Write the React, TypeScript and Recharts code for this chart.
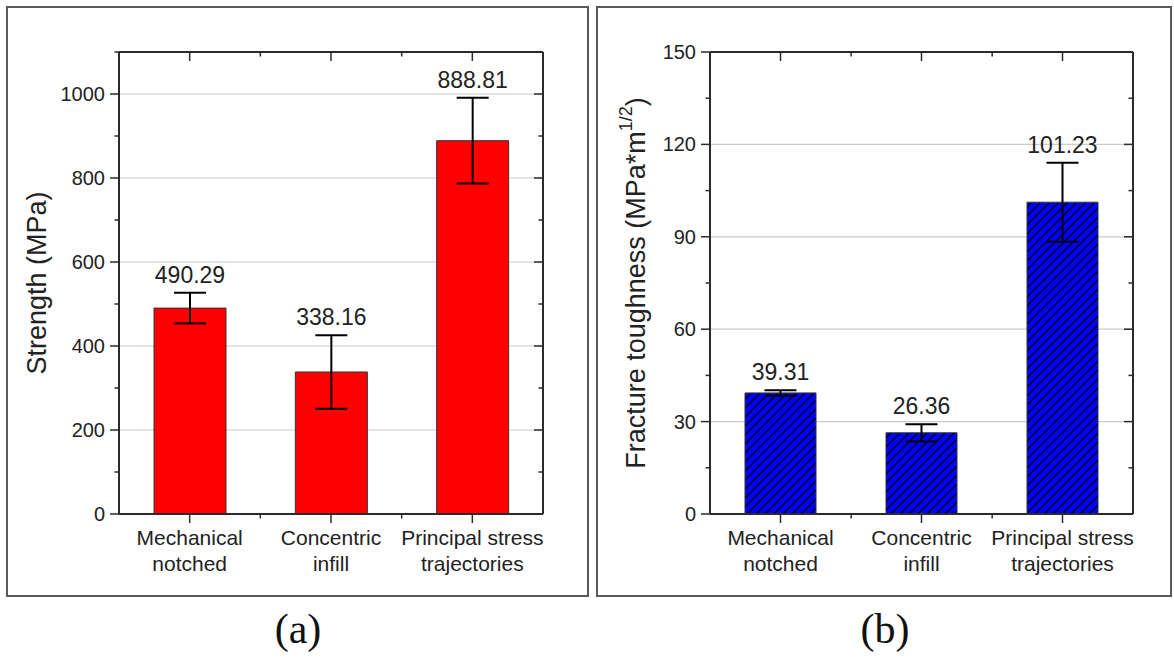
import { Bar, BarChart, CartesianGrid, ErrorBar, Label, LabelList, XAxis, YAxis } from "recharts";

const CATEGORIES = ["Mechanical notched", "Concentric infill", "Principal stress trajectories"];
const CATEGORY_LINES = [
  ["Mechanical", "notched"],
  ["Concentric", "infill"],
  ["Principal stress", "trajectories"],
];

// (a) tensile strength, MPa
const STRENGTH = [490.29, 338.16, 888.81];
const STRENGTH_ERR = [36.5, 87.5, 102];
const STRENGTH_TICKS = [0, 100, 200, 300, 400, 500, 600, 700, 800, 900, 1000, 1100];
const STRENGTH_MAJOR = [0, 200, 400, 600, 800, 1000];
const STRENGTH_GRID = [200, 400, 600, 800, 1000];

// (b) fracture toughness, MPa*m^1/2
const TOUGHNESS = [39.31, 26.36, 101.23];
const TOUGHNESS_ERR = [0.9, 2.8, 12.8];
const TOUGHNESS_TICKS = [0, 15, 30, 45, 60, 75, 90, 105, 120, 135, 150];
const TOUGHNESS_MAJOR = [0, 30, 60, 90, 120, 150];
const TOUGHNESS_GRID = [30, 60, 90, 120];

const FONT = "'Liberation Sans', Arial, Helvetica, sans-serif";
const AXIS = "#2b2b2b";
const GRID = "#cccccc";
const RED = "#ff0000";
const BLUE = "#0000ff";

const CHART_H = 589;
const PLOT_W = 424;

function YTick(props: any) {
  const { x, y, payload, majors, side } = props;
  const major = majors.includes(payload.value);
  const len = major ? 9 : 4.5;
  // left ticks point outward, right ticks point inward: both go leftwards
  return (
    <g>
      <line x1={x} x2={x - len} y1={y} y2={y} stroke={AXIS} strokeWidth={1.5} />
      {side === "left" && major ? (
        <text x={x - 14} y={y} textAnchor="end" dominantBaseline="central" fontSize={20} fill="#222" fontFamily={FONT}>
          {payload.value}
        </text>
      ) : null}
    </g>
  );
}

function XTick(props: any) {
  const { x, y, index, side } = props;
  const band = PLOT_W / CATEGORIES.length;
  const lines = CATEGORY_LINES[index] || [];
  return (
    <g>
      <line x1={x} x2={x} y1={y} y2={y + 9} stroke={AXIS} strokeWidth={1.5} />
      {index < CATEGORIES.length - 1 ? (
        <line x1={x + band / 2} x2={x + band / 2} y1={y} y2={y + 4.5} stroke={AXIS} strokeWidth={1.5} />
      ) : null}
      {side === "bottom"
        ? lines.map((t: string, i: number) => (
            <text key={t} x={x} y={y + 31 + i * 26} textAnchor="middle" fontSize={21} fill="#222" fontFamily={FONT}>
              {t}
            </text>
          ))
        : null}
    </g>
  );
}

function ValueLabel(props: any) {
  const { x, y, width, height, value, index, errs } = props;
  const v = Number(value);
  const top = Number(y) - (errs[index] * Number(height)) / v;
  return (
    <text x={Number(x) + Number(width) / 2} y={top - 10} textAnchor="middle" fontSize={23} fill="#222" fontFamily={FONT}>
      {v.toFixed(2)}
    </text>
  );
}

function Panel(props: {
  values: number[];
  errs: number[];
  ticks: number[];
  majors: number[];
  grid: number[];
  max: number;
  fill: string;
  width: number;
  marginRight: number;
  yWidth: number;
  barSize: number;
  title: (vb: any) => any;
  defs?: any;
}) {
  const data = CATEGORIES.map((name, i) => ({ name, value: props.values[i], err: props.errs[i] }));
  return (
    <BarChart
      width={props.width}
      height={CHART_H}
      data={data}
      margin={{ top: 44, bottom: 12, left: 0, right: props.marginRight - 1 }}
      barSize={props.barSize}
    >
      {props.defs}
      <CartesianGrid yAxisId="l" xAxisId="b" vertical={false} horizontalValues={props.grid} stroke={GRID} strokeWidth={1.2} />
      <XAxis
        xAxisId="b"
        dataKey="name"
        orientation="bottom"
        height={70}
        interval={0}
        tickSize={0}
        tickMargin={0}
        tickLine={false}
        axisLine={{ stroke: AXIS, strokeWidth: 2 }}
        tick={(p: any) => <XTick {...p} side="bottom" />}
      />
      <XAxis
        xAxisId="t"
        dataKey="name"
        orientation="top"
        height={1}
        interval={0}
        tickSize={0}
        tickMargin={0}
        tickLine={false}
        axisLine={{ stroke: AXIS, strokeWidth: 2 }}
        tick={(p: any) => <XTick {...p} side="top" />}
      />
      <YAxis
        yAxisId="l"
        domain={[0, props.max]}
        ticks={props.ticks}
        interval={0}
        width={props.yWidth}
        tickSize={0}
        tickMargin={0}
        tickLine={false}
        axisLine={{ stroke: AXIS, strokeWidth: 2 }}
        tick={(p: any) => <YTick {...p} majors={props.majors} side="left" />}
      >
        <Label content={(p: any) => props.title(p.viewBox)} />
      </YAxis>
      <YAxis
        yAxisId="r"
        orientation="right"
        domain={[0, props.max]}
        ticks={props.ticks}
        interval={0}
        width={1}
        tickSize={0}
        tickMargin={0}
        tickLine={false}
        axisLine={{ stroke: AXIS, strokeWidth: 2 }}
        tick={(p: any) => <YTick {...p} majors={props.majors} side="right" />}
      />
      <Bar xAxisId="b" yAxisId="l" dataKey="value" fill={props.fill} stroke="#333" strokeWidth={1} isAnimationActive={false}>
        <ErrorBar dataKey="err" direction="y" width={16} strokeWidth={2} stroke="#000" />
        <LabelList dataKey="value" content={(p: any) => <ValueLabel {...p} errs={props.errs} />} />
      </Bar>
      {/* invisible series so the top and right frame axes get a domain */}
      <Bar xAxisId="t" yAxisId="r" dataKey="value" fill="none" stroke="none" isAnimationActive={false} />
    </BarChart>
  );
}

const labelStyle = {
  position: "absolute" as const,
  width: 100,
  top: 604,
  textAlign: "center" as const,
  fontFamily: "'Liberation Serif', 'Times New Roman', serif",
  fontSize: 42,
  lineHeight: "50px",
  color: "#111",
};

export default function App() {
  return (
    <div style={{ position: "absolute", left: 0, top: 0, width: 1174, height: 658, background: "#fff" }}>
      <div
        style={{
          position: "absolute",
          left: 6,
          top: 6,
          width: 583,
          height: 591,
          border: "2px solid #5a5a5a",
          boxSizing: "border-box",
        }}
      />
      <div
        style={{
          position: "absolute",
          left: 596,
          top: 6,
          width: 576,
          height: 591,
          border: "2px solid #5a5a5a",
          boxSizing: "border-box",
        }}
      />
      <div style={{ position: "absolute", left: 7, top: 7 }}>
        <Panel
          values={STRENGTH}
          errs={STRENGTH_ERR}
          ticks={STRENGTH_TICKS}
          majors={STRENGTH_MAJOR}
          grid={STRENGTH_GRID}
          max={1100}
          fill={RED}
          width={580}
          marginRight={44}
          yWidth={112}
          barSize={72}
          title={(vb: any) => (
            <text
              transform={`translate(${vb.x + 30}, ${vb.y + vb.height / 2}) rotate(-90)`}
              textAnchor="middle"
              dominantBaseline="central"
              fontSize={27}
              fill="#222"
              fontFamily={FONT}
            >
              Strength (MPa)
            </text>
          )}
        />
      </div>
      <div style={{ position: "absolute", left: 597, top: 7 }}>
        <Panel
          values={TOUGHNESS}
          errs={TOUGHNESS_ERR}
          ticks={TOUGHNESS_TICKS}
          majors={TOUGHNESS_MAJOR}
          grid={TOUGHNESS_GRID}
          max={150}
          fill="url(#hatch)"
          width={573}
          marginRight={37}
          yWidth={113}
          barSize={71}
          defs={
            <defs>
              <pattern id="hatch" patternUnits="userSpaceOnUse" width={9} height={9}>
                <rect width={9} height={9} fill={BLUE} />
                <path d="M-2,2 L2,-2 M0,9 L9,0 M7,11 L11,7" stroke="#000" strokeWidth={1.3} />
              </pattern>
            </defs>
          }
          title={(vb: any) => (
            <text
              transform={`translate(${vb.x + 39}, ${vb.y + vb.height / 2}) rotate(-90)`}
              textAnchor="middle"
              dominantBaseline="central"
              fontSize={27}
              fill="#222"
              fontFamily={FONT}
            >
              Fracture toughness (MPa*m
              <tspan fontSize={18} dy={-10}>
                1/2
              </tspan>
              <tspan dy={10}>)</tspan>
            </text>
          )}
        />
      </div>
      <div style={{ ...labelStyle, left: 248 }}>(a)</div>
      <div style={{ ...labelStyle, left: 835 }}>(b)</div>
    </div>
  );
}
